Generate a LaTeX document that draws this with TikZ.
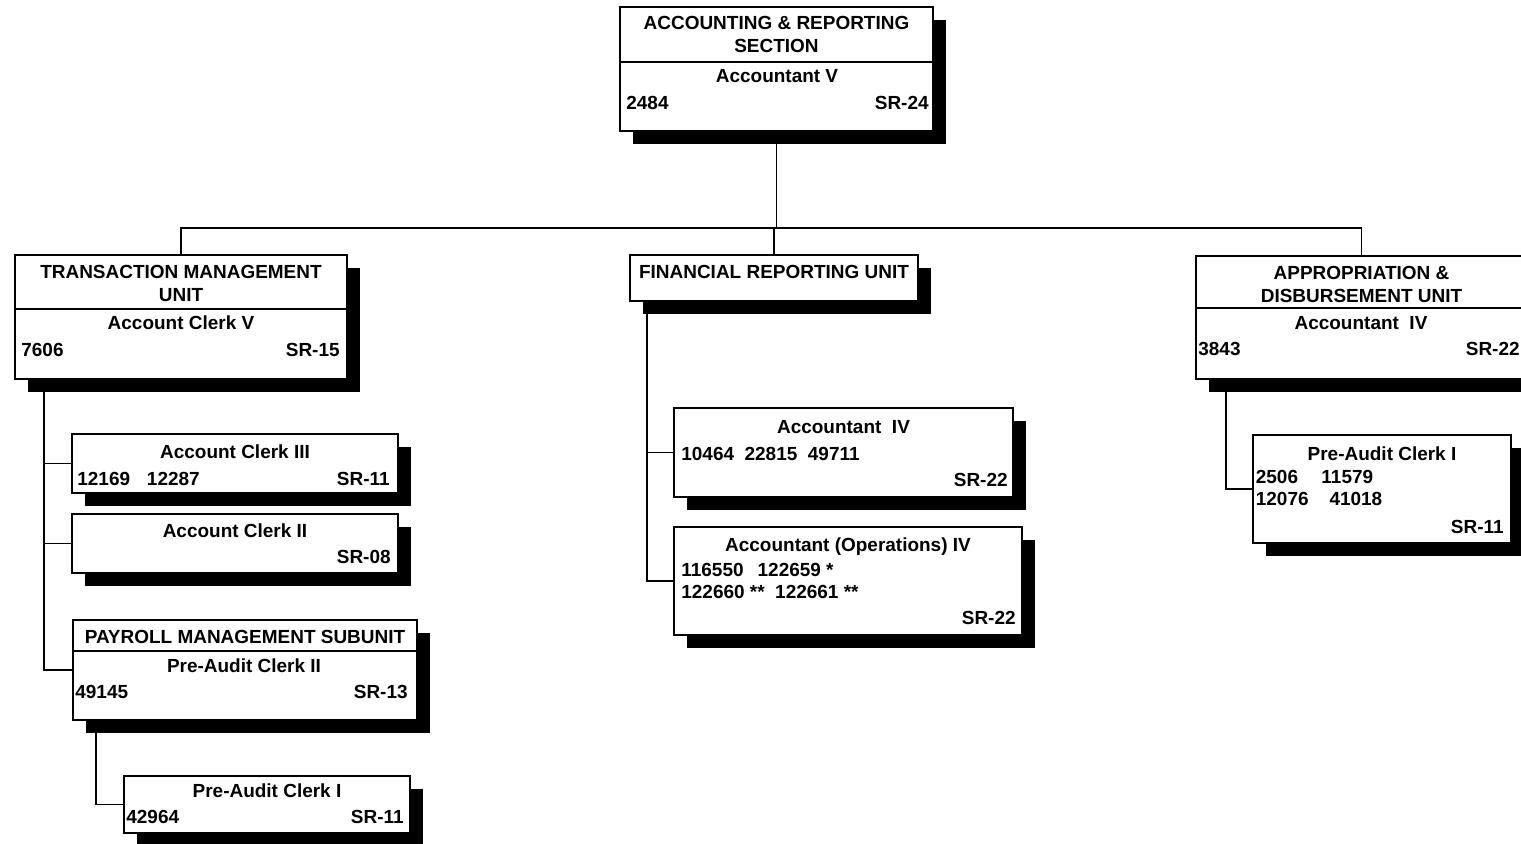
\documentclass[tikz,border=0pt]{standalone}
\usepackage{fontspec}
\setmainfont{Liberation Sans}
\usetikzlibrary{shadows,calc,backgrounds}

\tikzset{
    unitbox/.style 2 args={draw, fill=white, line width=1.1pt, anchor=north west,
        inner sep=0pt, outer sep=0pt, minimum width=#1*0.02cm, minimum height=#2*0.02cm,
        drop shadow={shadow xshift=0.26cm, shadow yshift=-0.26cm, fill=black, opacity=1}},
    lbl/.style={inner sep=0pt, font=\bfseries\fontsize{10.8}{12.7}\selectfont},
    link/.style={line width=0.9pt}
}

\begin{document}
\begin{tikzpicture}[x=0.02cm, y=-0.02cm]
    \useasboundingbox (0,0) rectangle (1521,844);
    \clip (0,0) rectangle (1521,844);
    %riquadri
    \node[unitbox={313}{124}] (sec) at (620,7) {};
    \node[unitbox={332}{124}] (tm) at (15,255) {};
    \node[unitbox={326}{59}] (ac3) at (72,434) {};
    \node[unitbox={326}{59}] (ac2) at (72,514) {};
    \node[unitbox={344}{100}] (pay) at (73,620) {};
    \node[unitbox={286}{57}] (pa1) at (124,776) {};
    \node[unitbox={288}{46}] (fr) at (630,255) {};
    \node[unitbox={339}{89}] (acc4) at (674,408) {};
    \node[unitbox={348}{108}] (ops) at (674,527) {};
    \node[unitbox={331}{123}] (ad) at (1196,256) {};
    \node[unitbox={258}{108}] (pa1r) at (1253,435) {};
    %linee di separazione intestazioni
    \draw[line width=1.1pt] (sec.west |- 0,62) -- (sec.east |- 0,62);
    \draw[line width=1.1pt] (tm.west |- 0,309) -- (tm.east |- 0,309);
    \draw[line width=1.1pt] (pay.west |- 0,651) -- (pay.east |- 0,651);
    \draw[line width=1.1pt] (ad.west |- 0,308) -- (ad.east |- 0,308);
    %collegamenti
    \coordinate (bus) at (0,228);
    \begin{scope}[on background layer]
        \draw[link] (sec.south) -- (sec.south |- bus);
        \draw[link] (tm.north) |- (ad.north |- bus) -- (ad.north);
        \draw[link] (fr.north) -- (fr.north |- bus);
        \draw[link] ($(tm.south west)+(29,0)$) |- (ac3.west);
        \draw[link] ($(tm.south west)+(29,0)$) |- (ac2.west);
        \draw[link] ($(tm.south west)+(29,0)$) |- (pay.west);
        \draw[link] ($(pay.south west)+(23,0)$) |- (pa1.west);
        \draw[link] ($(fr.south west)+(17,0)$) |- (acc4.west);
        \draw[link] ($(fr.south west)+(17,0)$) |- (ops.west);
        \draw[link] ($(ad.south west)+(30,0)$) |- (pa1r.west);
    \end{scope}
    %sezione
    \node[lbl, align=center, anchor=north] (sec-t) at (776.5,16.4) {ACCOUNTING \& REPORTING\\SECTION};
    \node[lbl, anchor=base] (sec-p) at (777,83) {Accountant V};
    \node[lbl, anchor=base west] (sec-n) at (626,110) {2484};
    \node[lbl, anchor=base east] (sec-sr) at (929,110) {SR-24};
    %transaction management
    \node[lbl, align=center, anchor=north] (tm-t) at (181,265.4) {TRANSACTION MANAGEMENT\\UNIT};
    \node[lbl, anchor=base] (tm-p) at (181,330) {Account Clerk V};
    \node[lbl, anchor=base west] (tm-n) at (21,357) {7606};
    \node[lbl, anchor=base east] (tm-sr) at (340,357) {SR-15};
    \node[lbl, anchor=base] (ac3-p) at (235,459) {Account Clerk III};
    \node[lbl, anchor=base west] (ac3-n) at (77,485) {12169\hspace{9.6pt}12287};
    \node[lbl, anchor=base east] (ac3-sr) at (390,485) {SR-11};
    \node[lbl, anchor=base] (ac2-p) at (235,537) {Account Clerk II};
    \node[lbl, anchor=base east] (ac2-sr) at (391,563) {SR-08};
    \node[lbl, anchor=base] (pay-t) at (245,643) {PAYROLL MANAGEMENT SUBUNIT};
    \node[lbl, anchor=base] (pay-p) at (244,672) {Pre-Audit Clerk II};
    \node[lbl, anchor=base west] (pay-n) at (75,698) {49145};
    \node[lbl, anchor=base east] (pay-sr) at (408,698) {SR-13};
    \node[lbl, anchor=base] (pa1-p) at (267,797) {Pre-Audit Clerk I};
    \node[lbl, anchor=base west] (pa1-n) at (126,823) {42964};
    \node[lbl, anchor=base east] (pa1-sr) at (404,823) {SR-11};
    %financial reporting
    \node[lbl, anchor=base] (fr-t) at (774,279) {FINANCIAL REPORTING UNIT};
    \node[lbl, anchor=base] (acc4-p) at (843.5,433) {Accountant\ \ IV};
    \node[lbl, anchor=base west] (acc4-n) at (681,460) {10464\ \ 22815\ \ 49711};
    \node[lbl, anchor=base east] (acc4-sr) at (1008,486) {SR-22};
    \node[lbl, anchor=base] (ops-p) at (848,551) {Accountant (Operations) IV};
    \node[lbl, align=left, anchor=north west] (ops-n) at (681,562.4)
        {116550\hspace{8pt}122659 *\\122660 **\ \ 122661 **};
    \node[lbl, anchor=base east] (ops-sr) at (1016,624) {SR-22};
    %appropriation
    \node[lbl, align=center, anchor=north] (ad-t) at (1361.5,266.4) {APPROPRIATION \&\\DISBURSEMENT UNIT};
    \node[lbl, anchor=base] (ad-p) at (1361,330) {Accountant\ \ IV};
    \node[lbl, anchor=base west] (ad-n) at (1198,356) {3843};
    \node[lbl, anchor=base east] (ad-sr) at (1520,356) {SR-22};
    \node[lbl, anchor=base] (pa1r-p) at (1382,460) {Pre-Audit Clerk I};
    \node[lbl, align=left, anchor=north west] (pa1r-n) at (1255.5,469.4)
        {2506\hspace{13.3pt}11579\\12076\hspace{11.9pt}41018};
    \node[lbl, anchor=base east] (pa1r-sr) at (1504,533) {SR-11};
\end{tikzpicture}
\end{document}
